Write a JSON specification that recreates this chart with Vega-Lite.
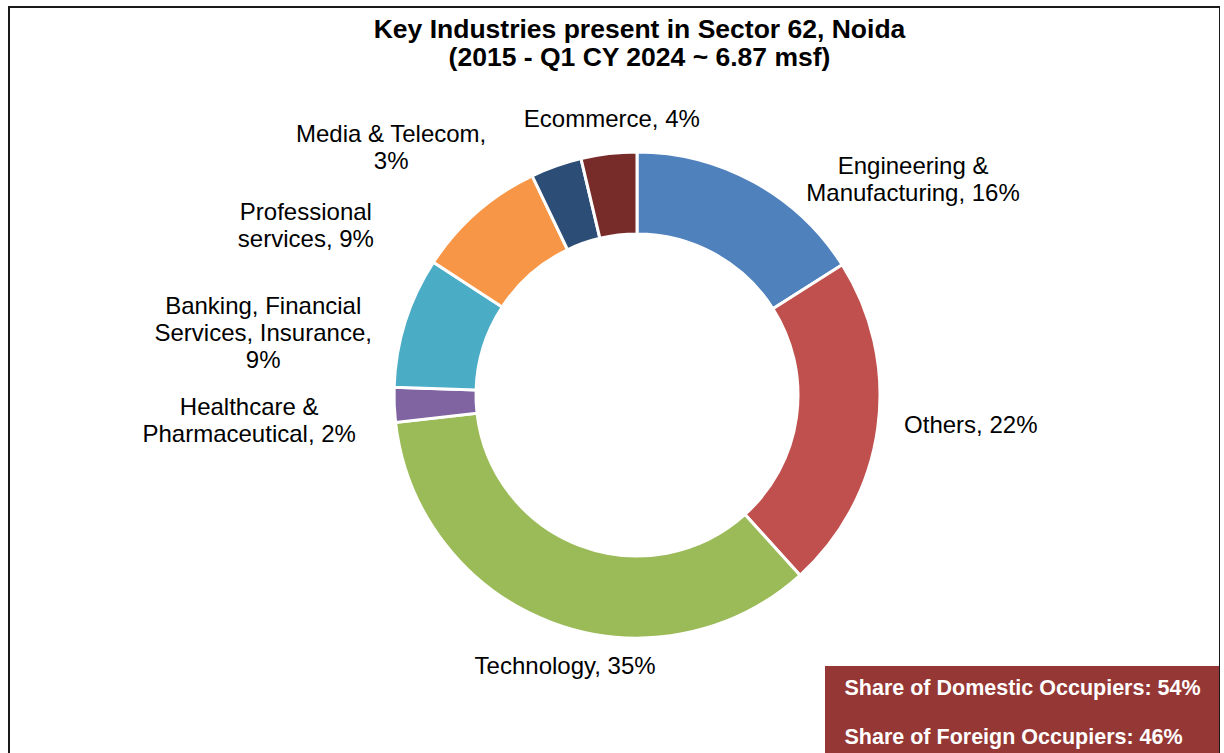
{
  "$schema": "https://vega.github.io/schema/vega-lite/v6.json",
  "autosize": {"type": "none"},
  "padding": {"left": 9, "top": 7, "right": 0, "bottom": 0},
  "width": 1211,
  "height": 776,
  "background": "white",
  "view": {"stroke": "#1a1a1a", "strokeWidth": 2, "fill": "white"},
  "config": {
    "view": {"stroke": "#1a1a1a", "strokeWidth": 2},
    "font": "Liberation Sans"
  },
  "title": {
    "text": ["Key Industries present in Sector 62, Noida", "(2015 - Q1 CY 2024 ~ 6.87 msf)"],
    "font": "Liberation Sans",
    "fontSize": 26.5,
    "fontWeight": "bold",
    "color": "#000000",
    "anchor": "middle",
    "orient": "top",
    "offset": -64,
    "dx": 25,
    "lineHeight": 27.5
  },
  "datasets": {
    "industries": [
      {"idx": 1, "industry": "Engineering & Manufacturing", "share": 16.0, "label": "Engineering &\nManufacturing, 16%"},
      {"idx": 2, "industry": "Others", "share": 22.3, "label": "Others, 22%"},
      {"idx": 3, "industry": "Technology", "share": 34.9, "label": "Technology, 35%"},
      {"idx": 4, "industry": "Healthcare & Pharmaceutical", "share": 2.3, "label": "Healthcare & \nPharmaceutical, 2%"},
      {"idx": 5, "industry": "Banking, Financial Services, Insurance", "share": 8.7, "label": "Banking, Financial\nServices, Insurance,\n9%"},
      {"idx": 6, "industry": "Professional services", "share": 8.7, "label": "Professional\nservices, 9%"},
      {"idx": 7, "industry": "Media & Telecom", "share": 3.4, "label": "Media & Telecom,\n3%"},
      {"idx": 8, "industry": "Ecommerce", "share": 3.7, "label": "Ecommerce, 4%"}
    ],
    "occupiers": [
      {"text": "Share of Domestic Occupiers: 54%"},
      {"text": "Share of Foreign Occupiers: 46%"}
    ]
  },
  "data": {"name": "industries"},
  "encoding": {
    "theta": {"field": "share", "type": "quantitative", "stack": true},
    "order": {"field": "idx", "type": "quantitative"},
    "color": {
      "field": "industry",
      "type": "nominal",
      "legend": null,
      "scale": {
        "domain": ["Engineering & Manufacturing", "Others", "Technology", "Healthcare & Pharmaceutical", "Banking, Financial Services, Insurance", "Professional services", "Media & Telecom", "Ecommerce"],
        "range": ["#4F81BD", "#C0504D", "#9BBB59", "#8064A2", "#4BACC6", "#F79646", "#2C4D75", "#772C2A"]
      }
    }
  },
  "layer": [
    {
      "mark": {"type": "arc", "innerRadius": 161, "outerRadius": 243, "stroke": "white", "strokeWidth": 3, "x": {"expr": "width/2 + 22.5"}},
      "encoding": {}
    },
    {
      "mark": {"type": "text", "radius": 243, "x": {"expr": "width/2 + 22.5"}, "dx": 159, "dy": -15, "fontSize": 24, "lineHeight": 27, "lineBreak": "\n", "align": "center", "baseline": "middle"},
      "encoding": {"text": {"condition": {"test": "datum.idx === 1", "field": "label"}, "value": ""}, "color": {"value": "#000000"}}
    },
    {
      "mark": {"type": "text", "radius": 243, "x": {"expr": "width/2 + 22.5"}, "dx": 93, "dy": -2, "fontSize": 24, "lineHeight": 27, "lineBreak": "\n", "align": "center", "baseline": "middle"},
      "encoding": {"text": {"condition": {"test": "datum.idx === 2", "field": "label"}, "value": ""}, "color": {"value": "#000000"}}
    },
    {
      "mark": {"type": "text", "radius": 243, "x": {"expr": "width/2 + 22.5"}, "dx": 14, "dy": 45, "fontSize": 24, "lineHeight": 27, "lineBreak": "\n", "align": "center", "baseline": "middle"},
      "encoding": {"text": {"condition": {"test": "datum.idx === 3", "field": "label"}, "value": ""}, "color": {"value": "#000000"}}
    },
    {
      "mark": {"type": "text", "radius": 243, "x": {"expr": "width/2 + 22.5"}, "dx": -145, "dy": 3, "fontSize": 24, "lineHeight": 27, "lineBreak": "\n", "align": "center", "baseline": "middle"},
      "encoding": {"text": {"condition": {"test": "datum.idx === 4", "field": "label"}, "value": ""}, "color": {"value": "#000000"}}
    },
    {
      "mark": {"type": "text", "radius": 243, "x": {"expr": "width/2 + 22.5"}, "dx": -142, "dy": -15, "fontSize": 24, "lineHeight": 27, "lineBreak": "\n", "align": "center", "baseline": "middle"},
      "encoding": {"text": {"condition": {"test": "datum.idx === 5", "field": "label"}, "value": ""}, "color": {"value": "#000000"}}
    },
    {
      "mark": {"type": "text", "radius": 243, "x": {"expr": "width/2 + 22.5"}, "dx": -171, "dy": 1, "fontSize": 24, "lineHeight": 27, "lineBreak": "\n", "align": "center", "baseline": "middle"},
      "encoding": {"text": {"condition": {"test": "datum.idx === 6", "field": "label"}, "value": ""}, "color": {"value": "#000000"}}
    },
    {
      "mark": {"type": "text", "radius": 243, "x": {"expr": "width/2 + 22.5"}, "dx": -165, "dy": -31, "fontSize": 24, "lineHeight": 27, "lineBreak": "\n", "align": "center", "baseline": "middle"},
      "encoding": {"text": {"condition": {"test": "datum.idx === 7", "field": "label"}, "value": ""}, "color": {"value": "#000000"}}
    },
    {
      "mark": {"type": "text", "radius": 243, "x": {"expr": "width/2 + 22.5"}, "dx": 3, "dy": -34, "fontSize": 24, "lineHeight": 27, "lineBreak": "\n", "align": "center", "baseline": "middle"},
      "encoding": {"text": {"condition": {"test": "datum.idx === 8", "field": "label"}, "value": ""}, "color": {"value": "#000000"}}
    },
    {
      "data": {"name": "occupiers"},
      "mark": {"type": "point", "opacity": 0, "size": 0},
      "encoding": {
        "theta": null,
        "order": null,
        "color": null,
        "shape": {
          "field": "text",
          "type": "nominal",
          "legend": {
            "title": null,
            "orient": "none",
            "legendX": 816,
            "legendY": 659,
            "fillColor": "#953735",
            "padding": 18,
            "labelColor": "#ffffff",
            "labelFont": "Liberation Sans",
            "labelFontWeight": "bold",
            "labelFontSize": 21.5,
            "labelBaseline": "alphabetic",
            "labelLimit": 500,
            "labelOffset": -20,
            "symbolSize": 0,
            "symbolOpacity": 0,
            "symbolStrokeWidth": 0,
            "rowPadding": 26
          }
        }
      }
    }
  ]
}
